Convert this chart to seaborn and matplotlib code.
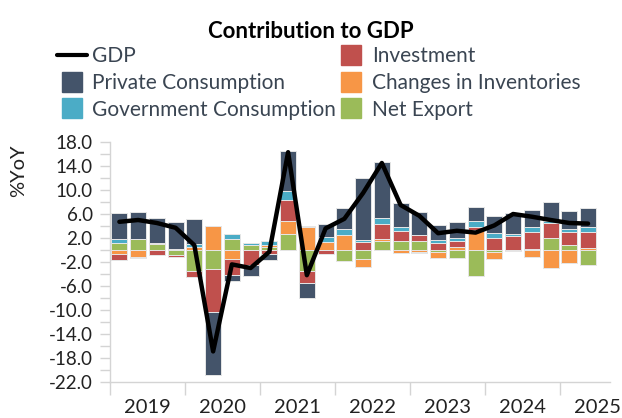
import numpy as np
import pandas as pd
import matplotlib
matplotlib.use("Agg")
import matplotlib.pyplot as plt
import seaborn as sns
from matplotlib.lines import Line2D
from matplotlib.ticker import MultipleLocator, FixedLocator, FixedFormatter

# quarters 2019Q1 .. 2025Q2
quarters = [f"{y}Q{q}" for y in range(2019, 2026) for q in range(1, 5)][:26]
years = ["2019", "2020", "2021", "2022", "2023", "2024", "2025"]

private_cons = [4.45, 4.45, 4.1, 4.5, 4.1, -10.6, -0.95, -1.8, -0.95, 6.67, -2.5, 2.06, 3.5,
                10.4, 9.3, 4.05, 3.78, 2.4, 2.55, 2.28, 2.94, 3.44, 2.78, 3.2, 3.06, 3.16]
gov_cons = [0.6, 0.05, 0.1, 0.1, 0.55, 0.0, 0.85, 0.4, 0.55, 1.5, 0.2, 0.83, 0.94,
            0.4, 1.06, 0.72, -0.2, 0.6, 0.55, 0.94, 0.83, 0.28, 0.83, 0.4, 0.56, 0.72]
investment = [-0.9, -0.2, -0.9, -0.3, -1.0, -7.1, -2.6, -2.5, -0.7, 3.5, -2.1, -0.67, 0.0,
              1.28, 2.4, 1.6, 1.0, 1.1, 1.05, 0.56, 1.94, 2.39, 2.95, 2.4, 2.1, 2.77]
inventories = [-0.7, -1.1, 0.2, 0.0, 0.45, 4.0, -1.55, 0.0, 0.4, 2.2, 3.8, 1.39, 2.5,
               -1.28, 0.4, -0.45, -0.3, -1.1, 0.44, 3.33, -1.15, -0.2, -1.1, -3.06, -2.1, 0.28]
net_export = [1.2, 1.8, 0.95, -0.8, -3.5, -3.2, 1.83, 0.8, 0.5, 2.6, -3.45, 0.0, -1.83,
              -1.5, 1.5, 1.5, 1.5, -0.28, -1.4, -4.28, -0.4, 0.0, 0.1, 2.06, 0.83, -2.5]
gdp = [4.7, 5.0, 4.5, 3.7, 0.8, -16.9, -2.4, -3.0, -0.3, 16.3, -4.2, 3.6, 5.2,
       9.5, 14.5, 7.5, 5.7, 2.8, 3.2, 2.9, 4.1, 6.0, 5.55, 5.0, 4.5, 4.4]

# stacking order outward from zero
series = [
    ("Net Export", net_export, "#9BBB59"),
    ("Changes in Inventories", inventories, "#F79646"),
    ("Investment", investment, "#C0504D"),
    ("Government Consumption", gov_cons, "#4BACC6"),
    ("Private Consumption", private_cons, "#44546A"),
]
colors = {name: c for name, _, c in series}

sns.set_theme(style="white")
plt.rcParams["font.family"] = ["Lato", "DejaVu Sans"]

fig = plt.figure(figsize=(6.22, 4.18), dpi=100)
ax = fig.add_axes([110 / 622, 1 - 382 / 418, 500 / 622, 240 / 418])

x = np.arange(len(quarters))
pos_bottom = np.zeros(len(x))
neg_bottom = np.zeros(len(x))
for name, vals, color in series:
    v = np.array(vals, dtype=float)
    pos = np.where(v > 0, v, 0)
    neg = np.where(v < 0, v, 0)
    ax.bar(x, pos, bottom=pos_bottom, width=0.86, color=color, edgecolor="#e6e6e6", linewidth=0.7)
    ax.bar(x, neg, bottom=neg_bottom, width=0.86, color=color, edgecolor="#e6e6e6", linewidth=0.7)
    pos_bottom += pos
    neg_bottom += neg

df = pd.DataFrame({"x": x, "gdp": gdp})
sns.lineplot(data=df, x="x", y="gdp", ax=ax, color="black", linewidth=3.2, zorder=5)

ax.set_xlim(-0.5, 26.17)
ax.set_ylim(-22, 18)
ax.set_xlabel("")
ax.set_ylabel("")

ax.yaxis.set_major_locator(FixedLocator(np.arange(-22, 19, 4)))
ax.yaxis.set_major_formatter(FixedFormatter([f"{v:.1f}" for v in np.arange(-22, 19, 4)]))
ax.yaxis.set_minor_locator(MultipleLocator(2))
ax.tick_params(axis="y", which="both", left=True, length=7.5, width=1, color="#d4d4d4",
               labelsize=13.5, labelcolor="#222222", pad=5)

ax.xaxis.set_major_locator(FixedLocator(np.arange(-0.5, 26, 4)))
ax.xaxis.set_major_formatter(FixedFormatter([""] * 7))
ax.xaxis.set_minor_locator(FixedLocator(np.arange(1.5, 27, 4)))
ax.xaxis.set_minor_formatter(FixedFormatter(years))
ax.tick_params(axis="x", which="major", bottom=True, length=9, width=1, color="#d4d4d4")
ax.tick_params(axis="x", which="minor", bottom=False, length=0, labelsize=14.5,
               labelcolor="#222222", pad=12.5)

for s in ["top", "right"]:
    ax.spines[s].set_visible(False)
for s in ["left", "bottom"]:
    ax.spines[s].set_color("#d4d4d4")
    ax.spines[s].set_linewidth(1)

fig.text(0.5, 1 - 31 / 418, "Contribution to GDP", ha="center", va="center",
         fontsize=16, fontweight="bold", color="black")
fig.text(19 / 622, 1 - 171 / 418, "%YoY", rotation=90, ha="center", va="center",
         fontsize=14.5, color="#222222")

def sq(c):
    return Line2D([0], [0], linestyle="none", marker="s", markersize=14.5,
                  markerfacecolor=c, markeredgecolor=c)

handles = [
    Line2D([0], [0], color="black", linewidth=3),
    sq(colors["Private Consumption"]),
    sq(colors["Government Consumption"]),
    sq(colors["Investment"]),
    sq(colors["Changes in Inventories"]),
    sq(colors["Net Export"]),
]
labels = ["GDP", "Private Consumption", "Government Consumption",
          "Investment", "Changes in Inventories", "Net Export"]
fig.legend(handles, labels, ncol=2, loc="upper left", bbox_to_anchor=(57 / 622, 1 - 46 / 418),
           frameon=False, fontsize=15, labelcolor="#3a4552", handlelength=1.45,
           handletextpad=0.25, columnspacing=0.0, labelspacing=0.33,
           borderpad=0, borderaxespad=0)

fig.savefig("out.png", dpi=100)
